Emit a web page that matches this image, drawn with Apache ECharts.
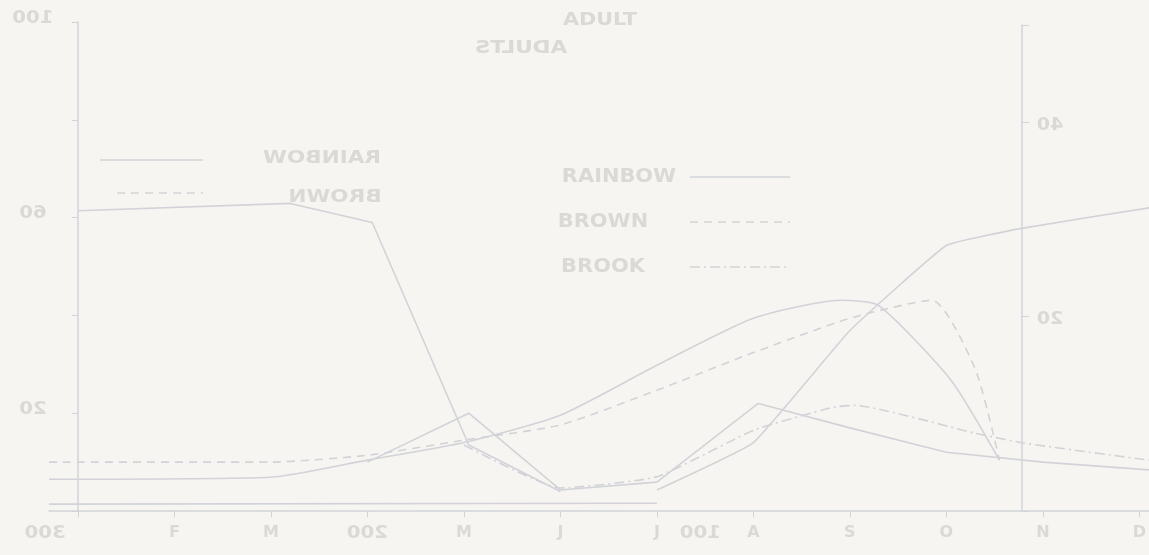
<!DOCTYPE html>
<html>
<head>
<meta charset="utf-8">
<script src="https://cdn.jsdelivr.net/npm/echarts@6/dist/echarts.min.js"></script>
<style>
html,body{margin:0;padding:0;background:#f7f5f1;}
#main{width:1149px;height:555px;}
</style>
</head>
<body>
<div id="main"></div>
<script>
// month ticks along the bottom (0 = J ... 11 = D), some are hidden under show-through numbers
const monthLabels = ['', 'F', 'M', '', 'M', 'J', 'J', 'A', 'S', 'O', 'N', 'D'];
const monthTicks = [0, 1, 2, 3, 4, 5, 6, 7, 8, 9, 10, 11];

// ADULT chart (reads normally), [month, %]
const rainbow = [[-0.3,6.5],[2,6.9],[3,10.4],[4,14],[5,19.6],[6,29.8],[7,39.4],[7.9,43.1],[8.3,42],[9.05,26.7],[9.55,10.4]];
const brown = [[-0.3,10],[2,10],[3,11.4],[4,14.5],[5,17.6],[6,24.7],[7,32.4],[8,39.4],[8.85,43.1],[9.3,29],[9.55,10.4]];
const brook = [[4,13.5],[5,4.7],[6,7],[7,16.5],[7.82,21.2],[8.05,21.6],[9.3,15.9],[9.8,13.9],[11.1,10.4]];

// ADULTS chart showing through from the back of the page
const adultsHigh = [[0,61.4],[2.2,62.9],[3.05,59],[4.05,13.5],[5,4]];
const adultsPeaks = [[3,10],[4.05,20],[5,4.3],[6,5.9],[7.05,22],[8,17],[9,12],[10,10],[11.1,8.4]];
const adultsRise = [[6,4.3],[7,14],[8,36.9],[9,54.3],[9.78,57.8],[11.1,62]];
const adultsBase = [[-0.3,1.4],[6,1.6]];

// tick labels (mirrored)
const leftTicks = [100, 60, 20];
const rightTicks = [40, 20];
const adultsXTicks = ['300', '200', '100'];
const adultsXPos = [-0.34, 3.0, 6.45];

const lineColor = '#d2d3d8';
const textColor = '#dbd9d6';
const fontFam = '"DejaVu Sans", sans-serif';

function lineSeries(name, data, type, smooth) {
  return {
    name: name,
    type: 'line',
    data: data,
    symbol: 'none',
    smooth: smooth || false,
    lineStyle: { color: lineColor, width: 1.6, type: type || 'solid' },
    silent: true
  };
}

const option = {
  backgroundColor: '#f7f5f1',
  animation: false,
  grid: [
    { left: 49, right: 0, top: 22, bottom: 44 },
    { left: 1022, right: 0, top: 25, bottom: 44 }
  ],
  xAxis: [
    {
      type: 'value', gridIndex: 0, min: -0.3, max: 11.1,
      axisLine: { lineStyle: { color: lineColor, width: 1.5 } },
      axisTick: { length: 6, customValues: monthTicks, lineStyle: { color: lineColor } },
      axisLabel: {
        color: textColor, fontSize: 16, fontWeight: 'bold', fontFamily: fontFam, margin: 14,
        customValues: monthTicks,
        formatter: v => monthLabels[Math.round(v)] || ''
      },
      splitLine: { show: false }
    },
    { type: 'value', gridIndex: 1, show: false, min: 0, max: 1 }
  ],
  yAxis: [
    {
      type: 'value', gridIndex: 0, min: 0, max: 100, interval: 20,
      axisLine: { show: true, onZero: true, lineStyle: { color: lineColor, width: 1.5 } },
      axisTick: { show: true, length: 6, lineStyle: { color: lineColor } },
      axisLabel: { show: false },
      splitLine: { show: false }
    },
    {
      type: 'value', gridIndex: 1, position: 'left', min: 0, max: 50, interval: 20,
      axisLine: { show: true, lineStyle: { color: lineColor, width: 1.5 } },
      axisTick: { show: true, inside: true, length: 7, lineStyle: { color: lineColor } },
      axisLabel: { show: false },
      splitLine: { show: false }
    }
  ],
  series: [
    lineSeries('RAINBOW', rainbow, 'solid', 0.2),
    lineSeries('BROWN', brown, [8, 6], 0.2),
    lineSeries('BROOK', brook, [10, 4, 2, 4], 0.15),
    lineSeries('ADULTS high', adultsHigh),
    lineSeries('ADULTS peaks', adultsPeaks),
    lineSeries('ADULTS rise', adultsRise, 'solid', 0.1),
    lineSeries('ADULTS base', adultsBase)
  ]
};

const chart = echarts.init(document.getElementById('main'));
chart.setOption(option);

const px = (x, y) => chart.convertToPixel({ gridIndex: 0 }, [x, y]);
const py2 = v => chart.convertToPixel({ gridIndex: 1 }, [0, v]);

function txt(text, x, y, size, sx) {
  return {
    type: 'text', x: x, y: y, scaleX: sx, silent: true,
    style: {
      text: text, fill: textColor, fontSize: size, fontWeight: 'bold', fontFamily: fontFam,
      align: 'center', verticalAlign: 'middle', textAlign: 'center', textVerticalAlign: 'middle'
    }
  };
}
function sample(x1, x2, y, dash) {
  return {
    type: 'line', silent: true,
    shape: { x1: x1, y1: y, x2: x2, y2: y },
    style: { stroke: lineColor, lineWidth: 1.6, lineDash: dash || null }
  };
}

const graphics = [];
leftTicks.forEach(v => {
  const p = px(0, v);
  graphics.push(txt(String(v), p[0] - 45, p[1] - 4, 18, -1.1));
});
rightTicks.forEach(v => {
  const p = py2(v);
  graphics.push(txt(String(v), p[0] + 28, p[1] + 3, 18, -1.05));
});
adultsXTicks.forEach((t, i) => {
  const p = px(adultsXPos[i], 0);
  graphics.push(txt(t, p[0], p[1] + 22, 18, -1.1));
});
// title of the front chart
graphics.push(txt('ADULT', 600, 20, 18, 1.15));
// show-through title and legend
graphics.push(txt('ADULTS', 521, 48, 18, -1.2));
graphics.push(txt('RAINBOW', 322, 158, 18, -1.2));
graphics.push(txt('BROWN', 335, 197, 18, -1.2));
graphics.push(sample(100, 203, 160));
graphics.push(sample(117, 203, 193, [8, 6]));
// ADULT legend
const legendNames = ['RAINBOW', 'BROWN', 'BROOK'];
const legendDash = [null, [8, 6], [10, 4, 2, 4]];
legendNames.forEach((n, i) => {
  const y = 177 + i * 45;
  graphics.push(txt(n, 563 + n.length * 8, y, 19, 1.1));
  graphics.push(sample(690, 790, y, legendDash[i]));
});
chart.setOption({ graphic: { elements: graphics } });
</script>
</body>
</html>
